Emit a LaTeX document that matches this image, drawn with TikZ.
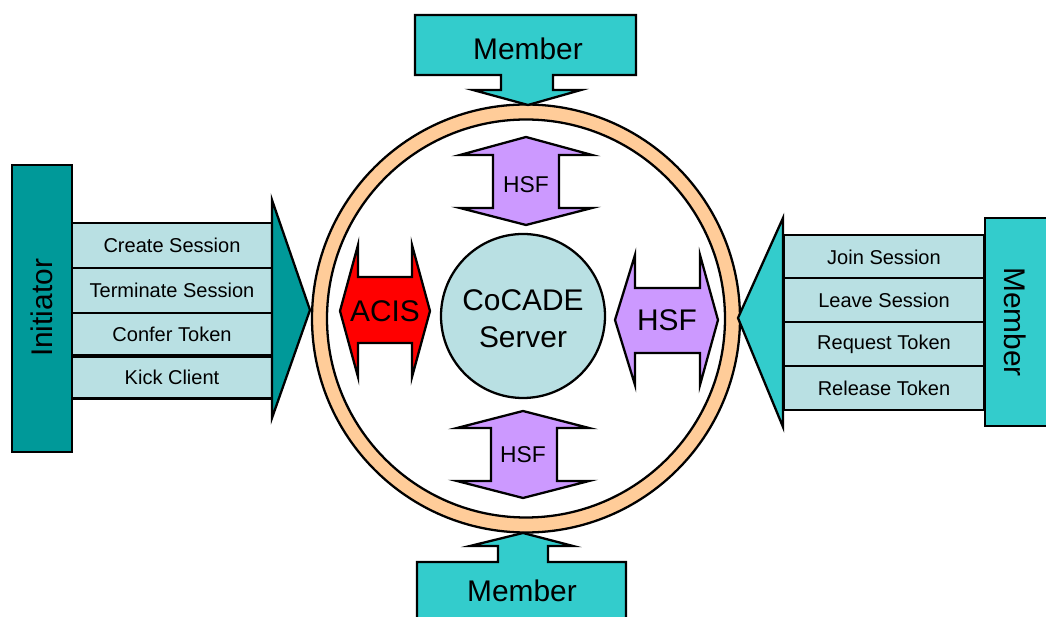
\documentclass[tikz,border=0pt]{standalone}
\usepackage{fontspec}
\setmainfont{Liberation Sans}
\usetikzlibrary{calc}
\definecolor{initteal}{RGB}{0,153,153}
\definecolor{memcyan}{RGB}{51,204,204}
\definecolor{rowblue}{RGB}{185,224,227}
\definecolor{hsfpurple}{RGB}{204,153,255}
\definecolor{ringorange}{RGB}{255,204,153}
\tikzset{
	bigtext/.style={inner sep=0pt, font=\fontsize{17}{21}\selectfont, align=center},
	midtext/.style={inner sep=0pt, font=\fontsize{13}{15}\selectfont},
	rowbox/.style={draw, fill=rowblue, minimum width=4.02cm, minimum height=0.88cm, inner sep=0pt, font=\fontsize{11.4}{13}\selectfont}
}

\begin{document}
\begin{tikzpicture}[x=0.02cm, y=-0.02cm, line width=1.3pt]
			%%%%% START %%%%%
			
			\clip (0, 0) rectangle (1046, 617);
			
			% ring
			\draw[fill=ringorange, even odd rule] (526, 318.5) circle (214) (526, 318.5) circle (199);
			
			% server
			\draw[fill=rowblue] (523, 316) circle (82);
			\node[bigtext] (server) at (523, 319) {CoCADE\\Server};
			
			% HSF / ACIS double arrows
			\draw[fill=hsfpurple] (526, 137) -- (592, 155) -- (559, 155) -- (559, 208) -- (592, 208) -- (526, 225) -- (460, 208) -- (493, 208) -- (493, 155) -- (460, 155) -- cycle;
			\node[midtext] (hsftop) at (526, 185) {HSF};
			
			\draw[fill=hsfpurple] (523, 411) -- (589, 428) -- (557, 428) -- (557, 481) -- (589, 481) -- (523, 498) -- (457, 481) -- (491, 481) -- (491, 428) -- (457, 428) -- cycle;
			\node[midtext] (hsfbottom) at (523, 455) {HSF};
			
			\draw[fill=red] (340, 311) -- (358, 245) -- (358, 277) -- (412, 277) -- (412, 245) -- (430, 311) -- (412, 377) -- (412, 343) -- (358, 343) -- (358, 377) -- cycle;
			\node[bigtext] (acis) at (385, 311) {ACIS};
			
			\draw[fill=hsfpurple] (615, 320) -- (635, 255) -- (635, 288) -- (700, 288) -- (700, 255) -- (718, 320) -- (700, 385) -- (700, 353) -- (635, 353) -- (635, 385) -- cycle;
			\node[bigtext] (hsfright) at (667, 320) {HSF};
			
			% members top and bottom
			\draw[fill=memcyan] (415, 15) -- (636, 15) -- (636, 75) -- (553, 75) -- (553, 90) -- (581, 90) -- (528, 105) -- (473, 90) -- (501, 90) -- (501, 75) -- (415, 75) -- cycle;
			\node[bigtext] (membertop) at (528, 49) {Member};
			
			\draw[fill=memcyan] (523, 533) -- (573, 546) -- (548, 546) -- (548, 562) -- (626, 562) -- (626, 640) -- (417, 640) -- (417, 562) -- (498, 562) -- (498, 546) -- (470, 546) -- cycle;
			\node[bigtext] (memberbottom) at (522, 591) {Member};
			
			% initiator side
			\node[rowbox, minimum height=0.9cm] (create) at (172, 245.5) {Create Session};
			\node[rowbox, minimum height=0.9cm] (terminate) at (172, 290.5) {Terminate Session};
			\node[rowbox, minimum height=0.84cm] (confer) at (172, 334) {Confer Token};
			\node[rowbox, minimum height=0.84cm] (kick) at (172, 377.5) {Kick Client};
			
			\draw[fill=initteal] (272, 200) -- (310, 310) -- (272, 418) -- cycle;
			\draw[fill=initteal] (12, 165) rectangle (72, 452);
			\node[bigtext, rotate=90] (initiator) at (42, 308) {Initiator};
			
			% member side
			\node[rowbox] (join) at (884, 257) {Join Session};
			\node[rowbox] (leave) at (884, 300) {Leave Session};
			\node[rowbox] (request) at (884, 344) {Request Token};
			\node[rowbox] (release) at (884, 388) {Release Token};
			
			\draw[fill=memcyan] (783, 218) -- (738, 318) -- (783, 427) -- cycle;
			\draw[fill=memcyan] (985, 218) rectangle (1070, 426);
			\node[bigtext, rotate=-90] (memberright) at (1015, 322) {Member};
			
			%%%%% END %%%%%
		\end{tikzpicture}
\end{document}
